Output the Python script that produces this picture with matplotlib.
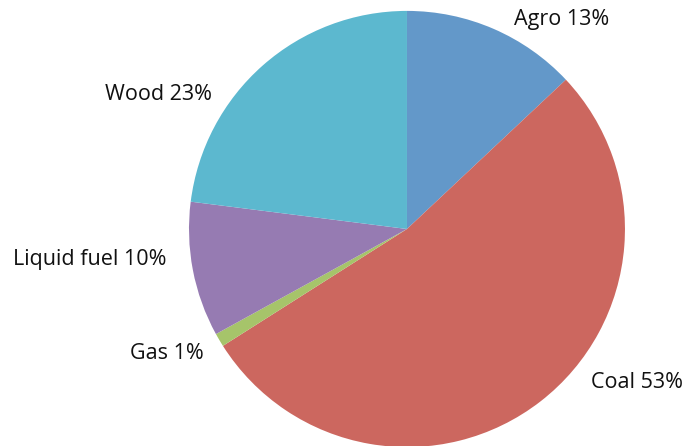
import matplotlib
matplotlib.use("Agg")
import numpy as np
import matplotlib.pyplot as plt

categories = ["Agro", "Coal", "Gas", "Liquid fuel", "Wood"]
shares = [13, 53, 1, 10, 23]
colors = ["#6398C9", "#CC675F", "#A6C46A", "#967BB2", "#5CB8CF"]

# label centres in pie units (radius = 1)
label_pos = [(0.711, 0.959), (1.055, -0.706), (-1.10, -0.569),
             (-1.454, -0.142), (-1.138, 0.615)]

plt.rcParams["font.family"] = ["Open Sans", "DejaVu Sans"]

fig = plt.figure(figsize=(6.86, 4.46), dpi=100)
ax = fig.add_axes([0, 0, 1, 1])
ax.pie(shares, colors=colors, startangle=90, counterclock=False,
       radius=1.0, wedgeprops=dict(linewidth=0))

for name, val, (x, y) in zip(categories, shares, label_pos):
    ax.text(x, y, f"{name} {val}%", ha="center", va="center",
            fontsize=15.5, color="#111111")

ax.set_xlim(-1.867, 1.280)
ax.set_ylim(-0.995, 1.050)
ax.set_aspect("auto")
ax.axis("off")

fig.savefig("out.png", dpi=100)
